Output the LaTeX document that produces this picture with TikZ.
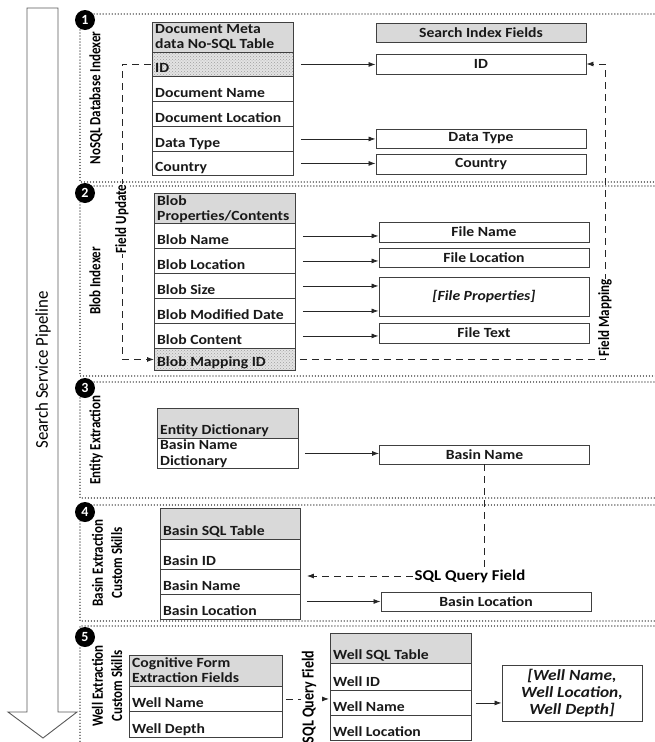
\documentclass[tikz,border=0pt]{standalone}
\usepackage{fontspec}
\setmainfont{Carlito}[FakeStretch=1.12]
\newfontfamily\labfont{Carlito}
\newfontfamily\pipefont{Carlito}[FakeStretch=1.12]
\usetikzlibrary{arrows.meta,patterns,calc}
\definecolor{hdr}{HTML}{D9D9D9}
\definecolor{ln}{HTML}{404040}
\newcommand\tfont{\bfseries\fontsize{14}{15}\selectfont}
\tikzset{
 tbl/.style={draw=ln, line width=0.9pt, inner sep=0pt, anchor=north west},
 hdrrow/.style={tbl, fill=hdr},
 hatch/.style={tbl, preaction={fill=gray!22}, pattern=crosshatch dots, pattern color=gray!75},
 rowtxt/.style={font=\tfont, anchor=base west, inner sep=0pt, text=black!90},
 hdrtxt/.style={font=\tfont, anchor=north west, align=left, inner sep=0pt, text=black!90},
 fieldbox/.style={draw=ln, line width=0.9pt, fill=white, font=\tfont, minimum width=210pt, inner sep=0pt, align=center, text=black!90},
 arr/.style={draw=black!85, line width=0.8pt, -{Latex[length=7pt,width=5pt]}},
 dline/.style={draw=black!85, line width=0.8pt, dash pattern=on 7pt off 5pt},
 darr/.style={dline, -{Latex[length=7pt,width=5pt]}},
 sect/.style={draw=gray!70!black, line width=1.3pt, dash pattern=on 0.01pt off 3pt, line cap=round},
 badge/.style={circle, fill=black, text=white, font=\labfont\bfseries\fontsize{14}{14}\selectfont, inner sep=0pt, minimum size=20pt},
 rotlab/.style={rotate=90, yscale=1.2, font=\labfont\bfseries\fontsize{13}{16}\selectfont, inner sep=1pt, align=center, text=black},
}
\newcommand\trow[7]{%
 \node[#6, minimum width=#5pt, minimum height={#4pt-#3pt}] (#1) at (#2,#3) {};
 \node[rowtxt] at ([shift={(3pt,4pt)}]#1.south west) {#7};}
\begin{document}
\begin{tikzpicture}[x=1pt,y=-1pt]
\useasboundingbox (0,0) rectangle (654,742);

% pipeline arrow
\draw[draw=gray!70!black, line width=0.9pt, fill=white] (27,8) -- (58,8) -- (58,712) -- (77,712) -- (43,738) -- (8,712) -- (27,712) -- cycle;
\node[rotate=90, yscale=1.2, font=\pipefont\fontsize{15}{15}\selectfont] (pipe) at (43,370) {Search Service Pipeline};

% sections
\draw[sect] (660,14) -- (80,14) -- (80,182) -- (660,182);
\draw[sect] (660,186) -- (80,186) -- (80,376) -- (660,376);
\draw[sect] (660,382) -- (80,382) -- (80,498) -- (660,498);
\draw[sect] (660,505) -- (80,505) -- (80,621) -- (660,621);
\draw[sect] (660,626) -- (80,626) -- (80,750);

\node[badge] (b1) at (85,20) {1};
\node[badge] (b2) at (85,193) {2};
\node[badge] (b3) at (85,388) {3};
\node[badge] (b4) at (85,512) {4};
\node[badge] (b5) at (85,637) {5};

\node[rotlab] (l1) at (96,98) {NoSQL Database Indexer};
\node[rotlab] (l2) at (95,281) {Blob Indexer};
\node[rotlab] (l3) at (96,440) {Entity Extraction};
\node[rotlab] (l4) at (107,563) {Basin Extraction\\Custom Skills};
\node[rotlab] (l5) at (107,686) {Well Extraction\\Custom Skills};

% ---------- section 1
\node[hdrrow, minimum width=141pt, minimum height=30pt] (t1h) at (152,22) {};
\node[hdrtxt] at ([shift={(3pt,-2pt)}]t1h.north west) {Document Meta\\data No-SQL Table};
\trow{r1id}{152}{52}{76}{141}{hatch}{ID}
\trow{r1dn}{152}{76}{101}{141}{tbl}{Document Name}
\trow{r1dl}{152}{101}{126}{141}{tbl}{Document Location}
\trow{r1dt}{152}{126}{151}{141}{tbl}{Data Type}
\trow{r1co}{152}{151}{175}{141}{tbl}{Country}

\node[fieldbox, fill=hdr, minimum height=19pt] (sif) at (481,32.5) {Search Index Fields};
\node[fieldbox, minimum height=20pt] (sid) at (481,64) {ID};
\node[fieldbox, minimum height=19pt] (sdt) at (481,138.5) {Data Type};
\node[fieldbox, minimum height=20pt] (sco) at (481,164) {Country};

\draw[arr] ([xshift=7pt]r1id.east) -- (r1id.east -| sid.west);
\draw[arr] ([xshift=7pt]r1dt.east) -- (r1dt.east -| sdt.west);
\draw[arr] ([xshift=7pt]r1co.east) -- (r1co.east -| sco.west);

% ---------- section 2
\node[hdrrow, minimum width=141pt, minimum height=30pt] (t2h) at (154,193) {};
\node[hdrtxt] at ([shift={(3pt,-2pt)}]t2h.north west) {Blob\\Properties/Contents};
\trow{r2bn}{154}{223}{248}{141}{tbl}{Blob Name}
\trow{r2bl}{154}{248}{273}{141}{tbl}{Blob Location}
\trow{r2bs}{154}{273}{298}{141}{tbl}{Blob Size}
\trow{r2bd}{154}{298}{323}{141}{tbl}{Blob Modified Date}
\trow{r2bc}{154}{323}{348}{141}{tbl}{Blob Content}
\trow{r2map}{154}{348}{370}{141}{hatch}{Blob Mapping ID}

\node[fieldbox, minimum height=20pt] (fname) at (484,232) {File Name};
\node[fieldbox, minimum height=19pt] (floc) at (484,257.5) {File Location};
\node[fieldbox, minimum height=39pt, font=\tfont\itshape] (fprop) at (484,296.5) {[File Properties]};
\node[fieldbox, minimum height=20pt] (ftext) at (484,333) {File Text};

\draw[arr] ([xshift=7pt]r2bn.east) -- (r2bn.east -| fname.west);
\draw[arr] ([xshift=7pt]r2bl.east) -- (r2bl.east -| floc.west);
\draw[arr] ([xshift=7pt]r2bs.east) -- (r2bs.east -| fprop.west);
\draw[arr] ([xshift=7pt]r2bd.east) -- (r2bd.east -| fprop.west);
\draw[arr] ([xshift=7pt]r2bc.east) -- (r2bc.east -| ftext.west);

% field update
\coordinate (fuX) at (122,0);
\draw[darr] ([xshift=-1pt]r1id.west) -- (r1id.west -| fuX) -- (r2map.west -| fuX) -- (r2map.west);
\node[rotlab, fill=white] (fu) at (122,219) {Field Update};

% field mapping
\coordinate (fmX) at (605,0);
\draw[darr] ([xshift=4pt]r2map.east) -- (r2map.east -| fmX) -- (sid.east -| fmX) -- (sid.east);
\node[rotlab, fill=white] (fm) at (605,318) {Field Mapping};

% ---------- section 3
\trow{t3h}{157}{408}{438}{141}{hdrrow}{Entity Dictionary}
\node[tbl, minimum width=141pt, minimum height=30pt] (t3b) at (157,438) {};
\node[hdrtxt, font=\bfseries\fontsize{14}{16}\selectfont] at ([shift={(3pt,-1pt)}]t3b.north west) {Basin Name\\Dictionary};
\node[fieldbox, minimum height=19pt] (bn) at (484.5,454.5) {Basin Name};
\draw[arr] ([xshift=6pt]t3b.east) -- (t3b.east -| bn.west);

% ---------- section 4
\trow{r4h}{160}{508}{539}{140}{hdrrow}{Basin SQL Table}
\trow{r4id}{160}{539}{569}{140}{tbl}{Basin ID}
\trow{r4name}{160}{569}{594}{140}{tbl}{Basin Name}
\trow{r4loc}{160}{594}{619}{140}{tbl}{Basin Location}
\node[fieldbox, minimum height=19pt] (bl) at (486,601.5) {Basin Location};

\node[font=\bfseries\fontsize{15}{15}\selectfont, inner sep=2pt] (sqlq) at (470,576) {SQL Query Field};
\draw[dline] (bn.south) -- (bn.south |- sqlq.north);
\coordinate (q4) at (sqlq.west -| r4name.east);
\draw[darr] (sqlq.west) -- ([xshift=6pt]q4);
\coordinate (q4b) at (r4loc.east |- bl.west);
\draw[arr] ([xshift=6pt]q4b) -- (bl.west);

% ---------- section 5
\node[hdrrow, minimum width=153pt, minimum height=31pt] (t5ah) at (129,655) {};
\node[hdrtxt] at ([shift={(3pt,-2pt)}]t5ah.north west) {Cognitive Form\\Extraction Fields};
\trow{r5cwn}{129}{686}{711}{153}{tbl}{Well Name}
\trow{r5cwd}{129}{711}{737}{153}{tbl}{Well Depth}

\trow{r5h}{330}{633}{663}{141}{hdrrow}{Well SQL Table}
\trow{r5wid}{330}{663}{690}{141}{tbl}{Well ID}
\trow{r5wname}{330}{690}{715}{141}{tbl}{Well Name}
\trow{r5wloc}{330}{715}{740}{141}{tbl}{Well Location}

\coordinate (q5) at (r5cwn.east -| r5wid.west);
\draw[darr] ([xshift=3pt]r5cwn.east) -- ([xshift=-1pt]q5);
\node[rotlab, fill=white, font=\labfont\bfseries\fontsize{14}{14}\selectfont] (sq5) at (309,697) {SQL Query Field};

\node[fieldbox, minimum width=140pt, minimum height=56pt, font=\bfseries\itshape\fontsize{15.5}{17}\selectfont] (res) at (572,693) {[Well Name,\\Well Location,\\Well Depth]};
\draw[arr] ([xshift=4pt]r5wname.east) -- (r5wname.east -| res.west);

\end{tikzpicture}
\end{document}
